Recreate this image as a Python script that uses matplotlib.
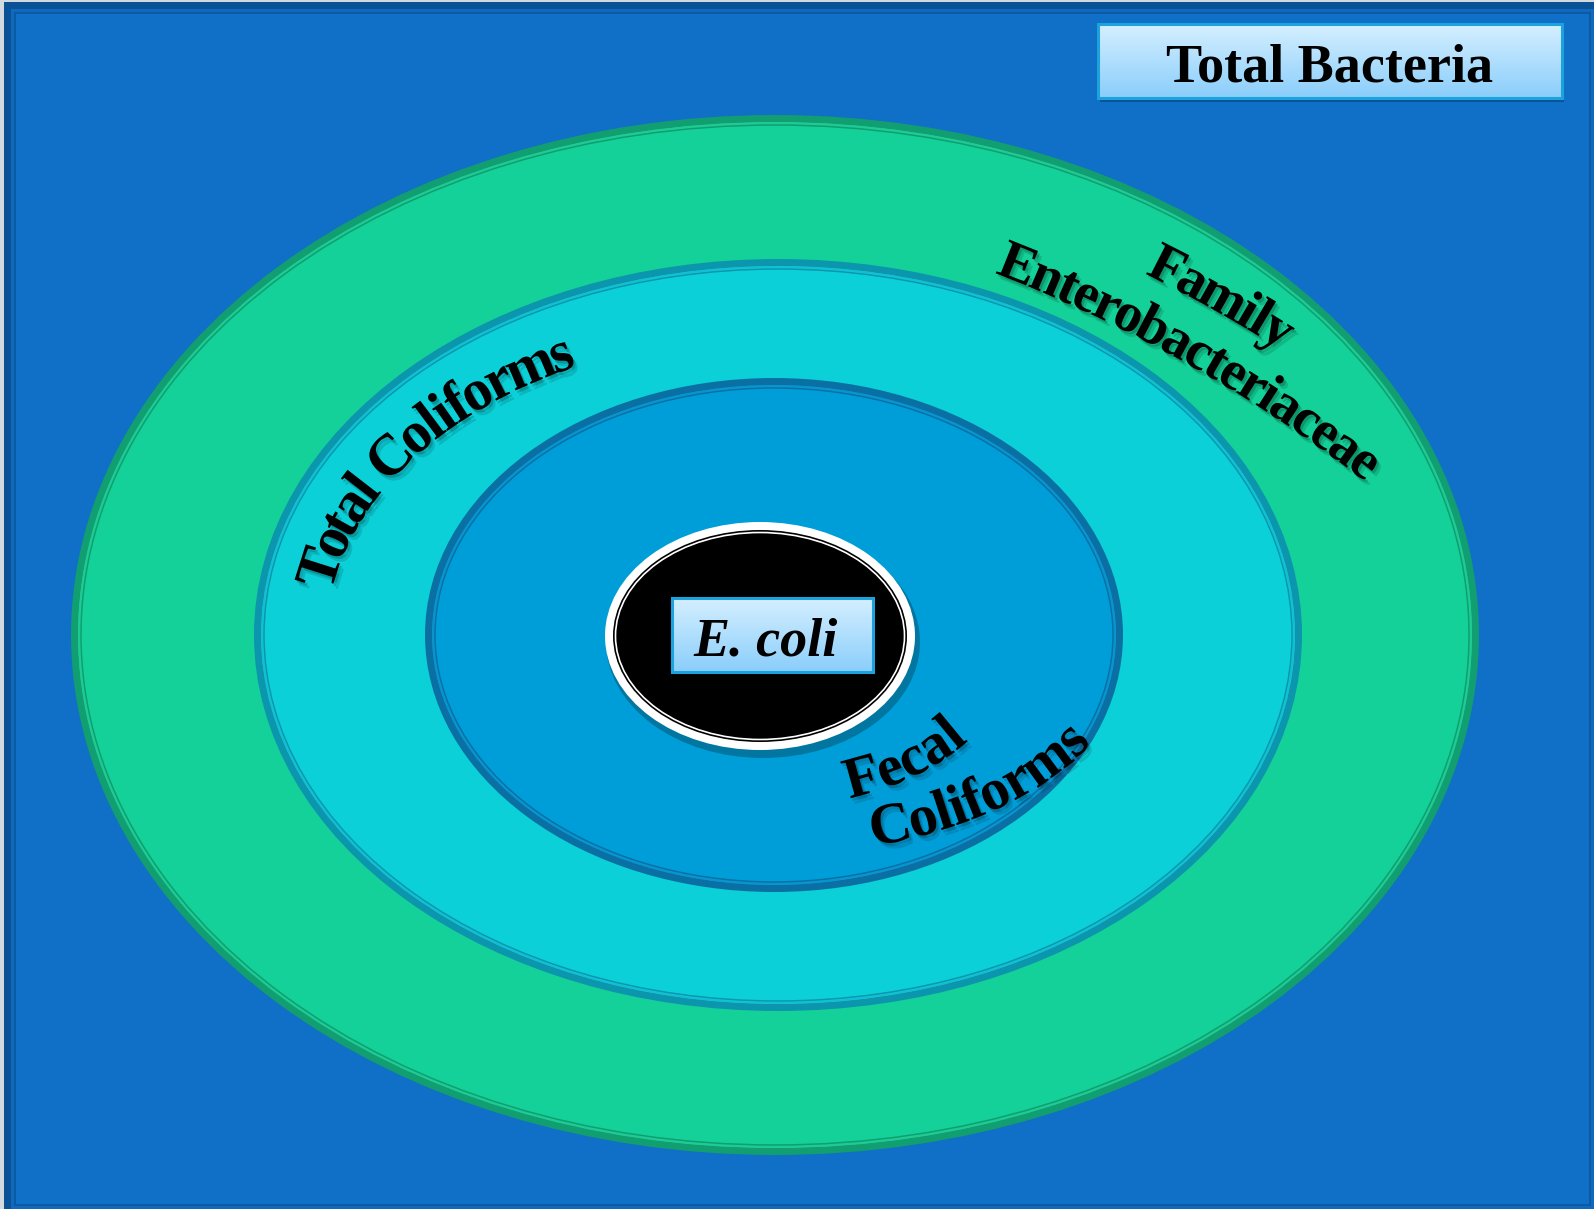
import numpy as np
import matplotlib
matplotlib.use("Agg")
import matplotlib.pyplot as plt
from matplotlib import patches, patheffects as pe
from matplotlib.colors import LinearSegmentedColormap
from matplotlib.font_manager import FontProperties

W, H = 1594, 1209

# nested groups, outermost first
groups = ["Total Bacteria", "Family Enterobacteriaceae", "Total Coliforms",
          "Fecal Coliforms", "E. coli"]

# ring geometry (px), outermost ring first: Enterobacteriaceae, coliforms, fecal
ring_cx = [775, 778, 774]
ring_cy = [635, 635, 635]
ring_a = [704, 524, 349]
ring_b = [520, 376, 257]
ring_fill = ["#13D198", "#0CD0D8", "#009ED8"]
ring_dark = ["#119E70", "#0B96AE", "#0A70A4"]
ring_light = ["#22C994", "#14BDD2", "#0C92CC"]

# E. coli core
core_cx, core_cy, core_a, core_b = 760, 636, 155, 114

BG = "#106FC6"
serif_bold = FontProperties(family="Liberation Serif", weight="bold", size=39)
arc_font = FontProperties(family="Liberation Serif", weight="bold", size=42)
arc_font_sm = FontProperties(family="Liberation Serif", weight="bold", size=40)
serif_bi = FontProperties(family="Liberation Serif", weight="bold", style="italic", size=39)
text_shadow = [
    pe.SimplePatchShadow(offset=(1.5, -2), shadow_rgbFace="black", alpha=0.18),
    pe.SimplePatchShadow(offset=(3, -4), shadow_rgbFace="black", alpha=0.12),
    pe.Normal(),
]


def arc_text(ax, text, cx, cy, a, b, t0, fp, ccw=False, track=0.93):
    # lay text out letter by letter along an ellipse, starting at angle t0
    renderer = ax.figure.canvas.get_renderer()
    adv = [0.0] + [renderer.get_text_width_height_descent(text[:i], fp, ismath=False)[0]
                   for i in range(1, len(text) + 1)]
    adv = [v * track for v in adv]
    sign = 1 if ccw else -1
    t = np.radians(t0) + sign * np.linspace(0, np.pi, 4000)
    x = cx + a * np.cos(t)
    y = cy - b * np.sin(t)
    s = np.concatenate([[0], np.cumsum(np.hypot(np.diff(x), np.diff(y)))])
    for i, ch in enumerate(text):
        if ch == " ":
            continue
        tc = np.interp((adv[i] + adv[i + 1]) / 2, s, t)
        dx = -sign * a * np.sin(tc)
        dy = -sign * b * np.cos(tc)
        ang = np.degrees(np.arctan2(-dy, dx))
        ax.text(cx + a * np.cos(tc), cy - b * np.sin(tc), ch, fontproperties=fp,
                rotation=ang, rotation_mode="anchor", ha="center", va="center_baseline",
                color="black", path_effects=text_shadow, zorder=10)


def label_box(ax, x0, y0, x1, y1, text, fp, tx):
    ax.add_patch(patches.Rectangle((x0 + 2, y0 + 4), x1 - x0, y1 - y0, fc="black",
                                   alpha=0.25, lw=0, zorder=11))
    cmap = LinearSegmentedColormap.from_list("box", ["#D4EFFF", "#8BCEFB"])
    ax.imshow(np.linspace(0, 1, 64)[:, None], extent=(x0, x1, y1, y0), cmap=cmap,
              aspect="auto", interpolation="bilinear", zorder=12)
    ax.add_patch(patches.Rectangle((x0, y0), x1 - x0, y1 - y0, fc="none",
                                   ec="#1CA3DE", lw=2.2, zorder=13))
    ax.text(tx, (y0 + y1) / 2 + 2, text, fontproperties=fp, ha="center",
            va="center_baseline", color="black", zorder=14)


def ring(ax, cx, cy, a, b, fill, dark, light, z):
    ax.add_patch(patches.Ellipse((cx, cy), 2 * a - 7, 2 * b - 7, fc=fill, ec=dark,
                                 lw=7 * 0.72, zorder=z))
    ax.add_patch(patches.Ellipse((cx, cy), 2 * (a - 8), 2 * (b - 8), fc="none",
                                 ec=light, lw=1.1, zorder=z))
    ax.add_patch(patches.Ellipse((cx, cy), 2 * (a - 10), 2 * (b - 10), fc="none",
                                 ec=dark, lw=1.1, zorder=z))


fig = plt.figure(figsize=(W / 100, H / 100), dpi=100, facecolor="#D3DADF")
ax = fig.add_axes([0, 0, 1, 1])
ax.set_axis_off()

# slide frame
for inset, col in [(0, "#0A5196"), (7, "#1169BD"), (10, "#0B5AA6"), (12, BG)]:
    ax.add_patch(patches.Rectangle((4 + inset, 2 + inset), 1597 - 2 * inset,
                                   1214 - 2 * inset, fc=col, lw=0, zorder=0))

for i in range(3):
    ring(ax, ring_cx[i], ring_cy[i], ring_a[i], ring_b[i],
         ring_fill[i], ring_dark[i], ring_light[i], z=1 + i)

# E. coli core with white double border
ax.add_patch(patches.Ellipse((core_cx + 3, core_cy + 6), 2 * core_a + 4, 2 * core_b + 4,
                             fc="black", alpha=0.25, lw=0, zorder=5))
ax.add_patch(patches.Ellipse((core_cx, core_cy), 2 * core_a, 2 * core_b, fc="white",
                             lw=0, zorder=6))
ax.add_patch(patches.Ellipse((core_cx, core_cy), 2 * (core_a - 8), 2 * (core_b - 8),
                             fc="black", lw=0, zorder=7))
ax.add_patch(patches.Ellipse((core_cx, core_cy), 2 * (core_a - 10.5), 2 * (core_b - 10.5),
                             fc="none", ec="white", lw=1.2, zorder=8))

# curved ring labels (the two-line family label follows a gentle wide arc)
arc_text(ax, "Family", 459, 1658, 1565, 1565, 63.6, arc_font_sm, track=0.94)
arc_text(ax, "Enterobacteriaceae", 459, 1658, 1505, 1505, 68.8, arc_font_sm, track=0.94)
arc_text(ax, "Total Coliforms", 776, 635, 469, 320, 171, arc_font)
arc_text(ax, "Fecal", 776, 635, 224, 151, -72, arc_font, ccw=True)
arc_text(ax, "Coliforms", 776, 635, 342, 199, -74, arc_font, ccw=True)

label_box(ax, 1098, 24, 1562, 98, groups[0], serif_bold, 1330)
label_box(ax, 672, 598, 873, 672, groups[4] + " ", serif_bi, 772)

ax.set_xlim(0, W)
ax.set_ylim(H, 0)
fig.savefig("out.png", dpi=100, facecolor=fig.get_facecolor())
